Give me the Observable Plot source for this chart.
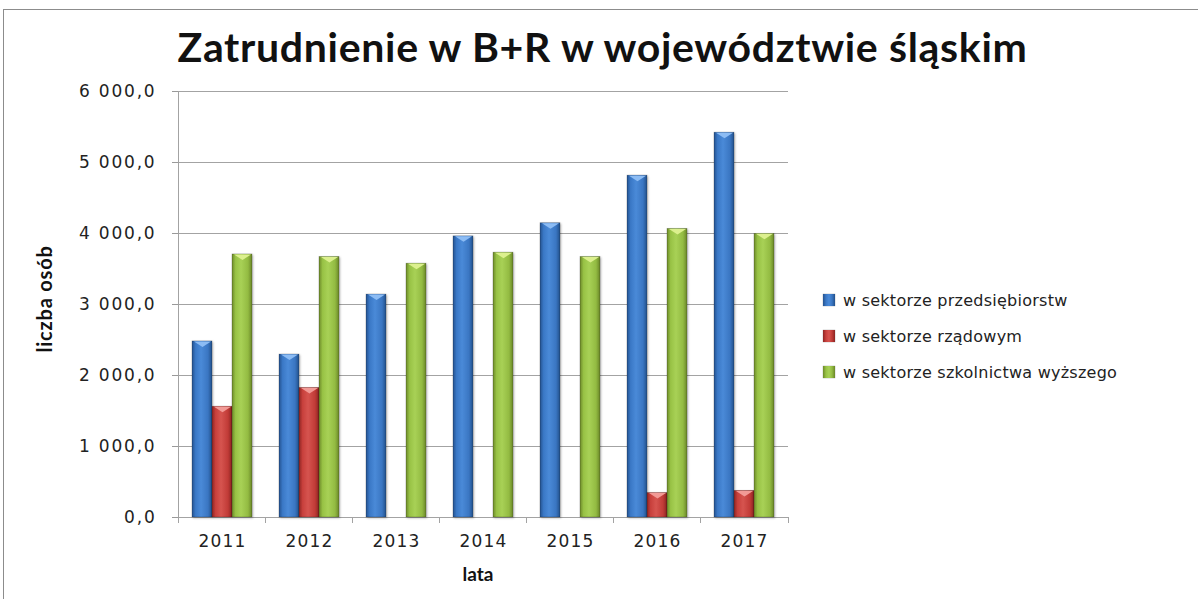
<!DOCTYPE html>
<html><head><meta charset="utf-8">
<script src="https://cdn.jsdelivr.net/npm/d3@7"></script>
<script src="https://cdn.jsdelivr.net/npm/@observablehq/plot@0.6"></script>
<style>
html,body{margin:0;padding:0;background:#fff;overflow:hidden;}
#wrap{position:relative;width:1198px;height:599px;overflow:hidden;}
#frame{position:absolute;left:3px;top:9px;width:1400px;height:800px;border-left:1.5px solid #8c8c8c;border-top:1.5px solid #8c8c8c;}
#chart{position:absolute;left:0;top:0;}
#title{position:absolute;left:0;top:26px;width:1205px;text-align:center;font-family:Lato;font-weight:700;font-size:41px;color:#111;white-space:nowrap;line-height:42px;}
#legend{position:absolute;left:823px;top:282px;font-family:"DejaVu Sans";font-size:16px;letter-spacing:0.25px;color:#222;}
.row{height:36px;display:flex;align-items:center;}
.sw{width:12px;height:12px;margin-right:8px;box-shadow:0 0 1px rgba(0,0,0,.5);}
#ylab{position:absolute;left:44px;top:299px;transform:translate(-50%,-50%) rotate(-90deg);font-family:Lato;font-weight:700;font-size:20px;letter-spacing:0.8px;color:#111;white-space:nowrap;}
#xlab{position:absolute;left:478px;top:573px;transform:translate(-50%,-50%);font-family:Lato;font-weight:700;font-size:19px;color:#111;}
</style></head>
<body>
<div id="wrap">
  <div id="frame"></div>
  <div id="chart"></div>
  <div id="title"></div>
  <div id="legend"></div>
  <div id="ylab"></div>
  <div id="xlab"></div>
</div>
<script>
// ---- data ----
const years = ["2011", "2012", "2013", "2014", "2015", "2016", "2017"];
const seriesNames = ["w sektorze przedsiębiorstw", "w sektorze rządowym", "w sektorze szkolnictwa wyższego"];
const przedsiebiorstw = [2480, 2295, 3140, 3960, 4145, 4815, 5420];
const rzadowy = [1560, 1825, null, null, null, 345, 375];
const szkolnictwo = [3705, 3670, 3575, 3730, 3670, 4065, 3995];
const yTicks = [0, 1000, 2000, 3000, 4000, 5000, 6000];
const titleText = "Zatrudnienie w B+R w województwie śląskim";
const yTitle = "liczba osób";
const xTitle = "lata";

// ---- styles ----
const gradStops = [
  ["#24528f", "#3a78c6", "#4a8ad8", "#3a76c2", "#22508a"],
  ["#8e2523", "#c8403c", "#d6544f", "#c13b37", "#8a2421"],
  ["#6d8a2a", "#98c245", "#a8d156", "#93bb42", "#6a8628"]
];
const capColors = ["#8cbcf4", "#f29a96", "#dcf08e"];
const gradIds = ["gB", "gR", "gG"];

const seriesValues = [przedsiebiorstw, rzadowy, szkolnictwo];
const data = [];
years.forEach((y, i) => seriesValues.forEach((arr, s) => {
  if (arr[i] != null) data.push({year: y, series: seriesNames[s], value: arr[i]});
}));

const locale = d3.formatLocale({decimal: ",", thousands: "\u00a0", grouping: [3], currency: ["", " zł"]});
const fmt = locale.format(",.1f");

const capSymbol = {draw(ctx) { ctx.moveTo(-8.5, 0); ctx.lineTo(8.5, 0); ctx.lineTo(0, 5.5); ctx.closePath(); }};

function build(axisShift) {
  return Plot.plot({
    width: 1198, height: 599,
    marginLeft: 178, marginRight: 410, marginTop: 91, marginBottom: 82,
    style: {fontFamily: "DejaVu Sans", fontSize: "17px", color: "#222", background: "transparent", overflow: "visible"},
    fx: {domain: years, paddingInner: 0.31, paddingOuter: 0.155, label: null, axis: "bottom", tickSize: 0, tickPadding: 17},
    x: {domain: seriesNames, axis: null, padding: 0},
    y: {domain: [0, 6000], axis: null},
    color: {domain: seriesNames, range: gradIds.map(id => `url(#${id})`)},
    marks: [
      Plot.axisY(yTicks, {tickSize: 6, tickPadding: 16, tickFormat: fmt, label: null, stroke: "#999", fill: "#222",
        fontSize: 17, dx: -axisShift}),
      Plot.barY(data, {fx: "year", x: "series", y: "value", fill: "series", stroke: "rgba(0,0,0,0.28)", strokeWidth: 0.7}),
      ...seriesNames.map((s, i) => Plot.dot(data, {filter: d => d.series === s, fx: "year", x: "series", y: "value",
        symbol: capSymbol, r: 4, fill: capColors[i], stroke: "none"}))
    ]
  });
}

// first pass: read the facet scale to find where the first facet begins
const probe = build(0);
const fxProbe = probe.scale("fx");
const shift = fxProbe.apply(years[0]) - fxProbe.range[0];
const plot = build(shift);
document.getElementById("chart").appendChild(plot);

const svg = d3.select(plot.tagName.toLowerCase() === "svg" ? plot : plot.querySelector("svg"));
// gradients
const defs = svg.insert("defs", ":first-child");
gradIds.forEach((id, i) => {
  const g = defs.append("linearGradient").attr("id", id).attr("x1", 0).attr("x2", 1).attr("y1", 0).attr("y2", 0);
  [0, 0.18, 0.45, 0.8, 1].forEach((o, k) => g.append("stop").attr("offset", o).attr("stop-color", gradStops[i][k]));
});
svg.selectAll("g[aria-label='bar'] rect").style("filter", "drop-shadow(1.5px 1px 1px rgba(0,0,0,0.3))");
svg.selectAll("g[aria-label='y-axis tick label'] text").style("letter-spacing", "1.8px");
svg.selectAll("g[aria-label='fx-axis tick label'] text").style("letter-spacing", "1.2px");

// structural lines from the library's scales
const ys = plot.scale("y"), fxs = plot.scale("fx");
const x0 = fxs.range[0], x1 = fxs.range[1];
const step = (x1 - x0) / years.length;
const yZero = ys.apply(0), yTop = ys.apply(6000);
const lines = svg.insert("g", "defs + *").attr("stroke", "#a3a3a3").attr("stroke-width", 1).attr("shape-rendering", "crispEdges");
yTicks.forEach(t => lines.append("line").attr("x1", x0).attr("x2", x1).attr("y1", ys.apply(t)).attr("y2", ys.apply(t)));
lines.append("line").attr("x1", x0).attr("x2", x0).attr("y1", yTop).attr("y2", yZero);
d3.range(years.length + 1).forEach(k => lines.append("line")
  .attr("x1", x0 + k * step).attr("x2", x0 + k * step).attr("y1", yZero).attr("y2", yZero + 6));

// texts
document.getElementById("ylab").textContent = yTitle;
document.getElementById("xlab").textContent = xTitle;
(function () {
  const el = document.getElementById("title");
  const span = document.createElement("span"); span.textContent = titleText; el.appendChild(span);
  const w = span.getBoundingClientRect().width;
  const target = 850;
  span.style.letterSpacing = ((target - w) / titleText.length).toFixed(2) + "px";
})();

const legend = d3.select("#legend");
seriesNames.forEach((s, i) => {
  const row = legend.append("div").attr("class", "row");
  row.append("div").attr("class", "sw")
    .style("background", `linear-gradient(to right, ${gradStops[i].join(",")})`);
  row.append("span").text(s);
});
</script>
</body></html>
